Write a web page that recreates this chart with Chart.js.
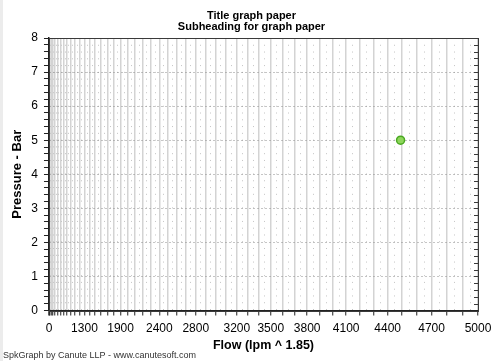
<!DOCTYPE html>
<html>
<head>
<meta charset="utf-8">
<script src="https://cdn.jsdelivr.net/npm/chart.js@4/dist/chart.umd.min.js"></script>
<style>
  html, body { margin: 0; padding: 0; background: #fff; }
  #chart { display: block; background: linear-gradient(to right, #ececec 3px, #fff 3px); }
</style>
</head>
<body>
<canvas id="chart" width="500" height="361"></canvas>
<script>
// flow axis is drawn on a power scale (lpm ^ 1.85)
const POW = 1.85;
const flowMax = 5000;
const flowStep = 100;          // solid grid every 100 lpm, dotted line halfway
const flowLabels = [0, 1300, 1900, 2400, 2800, 3200, 3500, 3800, 4100, 4400, 4700, 5000];
const pressureMax = 8;
const pressureMinorSteps = 5;  // 0.2 bar

// the single plotted point
const flowValues = [4490];
const pressureValues = [5];

const toPow = v => Math.pow(v, POW);
const fromPow = v => Math.pow(v, 1 / POW);
const flowOf = ctx => ctx.tick ? Math.round(fromPow(ctx.tick.value) / 50) * 50 : 0;
const isMid = ctx => flowOf(ctx) % flowStep !== 0;

// dark frame round the plot, with small inward ticks on the right edge
const framePlugin = {
  id: 'frame',
  afterDraw(chart) {
    const { ctx, chartArea: a } = chart;
    const y = chart.scales.y;
    ctx.save();
    ctx.strokeStyle = '#3a3a3a';
    ctx.lineWidth = 1;
    ctx.strokeRect(Math.round(a.left) + 0.5, Math.round(a.top) + 0.5,
      Math.round(a.right - a.left), Math.round(a.bottom - a.top));
    ctx.beginPath();
    y.ticks.forEach(t => {
      const py = Math.round(y.getPixelForValue(t.value)) + 0.5;
      ctx.moveTo(a.right - 4, py);
      ctx.lineTo(a.right, py);
    });
    ctx.stroke();
    ctx.restore();
  }
};

const ctx = document.getElementById('chart');

new Chart(ctx, {
  type: 'scatter',
  data: {
    datasets: [{
      data: flowValues.map((f, i) => ({ x: toPow(f), y: pressureValues[i] })),
      pointStyle: 'circle',
      pointRadius: 4,
      pointBackgroundColor: '#8ed65c',
      pointBorderColor: '#4aa821',
      pointBorderWidth: 1.5
    }]
  },
  options: {
    responsive: false,
    devicePixelRatio: 1,
    animation: false,
    layout: { padding: { left: 3, right: 0, top: 0, bottom: 0 } },
    plugins: {
      legend: { display: false },
      tooltip: { enabled: false },
      title: {
        display: true,
        text: ['Title graph paper', 'Subheading for graph paper'],
        color: '#000',
        font: { family: 'Arial, "Liberation Sans"', size: 11, weight: 'bold', lineHeight: 1.0 },
        padding: { top: 10, bottom: 6 }
      },
      subtitle: {
        display: true,
        position: 'bottom',
        align: 'start',
        text: 'SpkGraph by Canute LLP - www.canutesoft.com',
        color: '#333',
        font: { family: 'Arial, "Liberation Sans"', size: 9, lineHeight: 0.8 },
        padding: { top: 0, bottom: 1.5 }
      }
    },
    scales: {
      x: {
        type: 'linear',
        min: 0,
        max: toPow(flowMax),
        afterBuildTicks: scale => {
          const t = [];
          for (let f = 0; f <= flowMax; f += flowStep / 2) t.push({ value: toPow(f) });
          scale.ticks = t;
        },
        grid: {
          color: ctx => isMid(ctx) ? '#c4c4c4' : '#d3d3d3',
          lineWidth: ctx => isMid(ctx) ? 1 : 1.5,
          tickLength: 5,
          tickColor: ctx => isMid(ctx) ? 'rgba(0,0,0,0)' : '#222',
          tickWidth: 1
        },
        border: {
          color: '#222',
          width: 1.5,
          dash: ctx => isMid(ctx) ? [1, 5.775] : []
        },
        ticks: {
          autoSkip: false,
          maxRotation: 0,
          padding: 6,
          color: '#000',
          font: { family: 'Arial, "Liberation Sans"', size: 12 },
          callback: v => {
            const f = Math.round(fromPow(v) / 50) * 50;
            return flowLabels.includes(f) ? String(f) : '';
          }
        },
        title: {
          display: true,
          text: 'Flow (lpm ^ 1.85)',
          color: '#000',
          font: { family: 'Arial, "Liberation Sans"', size: 12.5, weight: 'bold', lineHeight: 0.512 },
          padding: { top: 0, bottom: 4 }
        }
      },
      y: {
        type: 'linear',
        min: 0,
        max: pressureMax,
        afterBuildTicks: scale => {
          const t = [];
          for (let i = 0; i <= pressureMax * pressureMinorSteps; i++) t.push({ value: i / pressureMinorSteps });
          scale.ticks = t;
        },
        grid: {
          color: ctx => ctx.tick && Number.isInteger(ctx.tick.value) ? '#8a8a8a' : 'rgba(0,0,0,0)',
          lineWidth: 1,
          tickLength: 5,
          tickColor: '#222'
        },
        border: {
          color: '#222',
          width: 1.5,
          dash: [1, 3]
        },
        ticks: {
          autoSkip: false,
          padding: 6,
          color: '#000',
          font: { family: 'Arial, "Liberation Sans"', size: 12 },
          callback: v => Number.isInteger(v) ? String(v) : ''
        },
        title: {
          display: true,
          text: 'Pressure - Bar',
          color: '#000',
          font: { family: 'Arial, "Liberation Sans"', size: 13, weight: 'bold', lineHeight: 1.1 },
          padding: { top: 7, bottom: 1 }
        }
      },
      // empty right-hand axis, only used to keep the plot clear of the right edge
      yRight: {
        type: 'linear',
        position: 'right',
        min: 0,
        max: pressureMax,
        grid: { display: false },
        border: { display: false },
        ticks: { display: false },
        afterFit: scale => { scale.width = 22; }
      }
    }
  },
  plugins: [framePlugin]
});
</script>
</body>
</html>
